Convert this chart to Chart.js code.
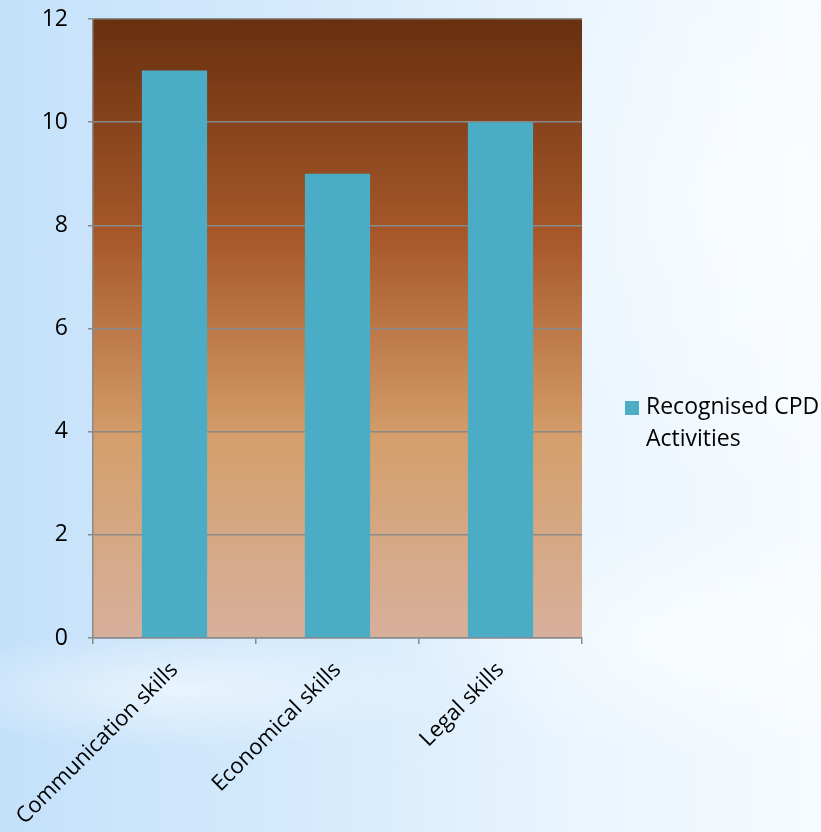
<!DOCTYPE html>
<html>
<head>
<meta charset="utf-8">
<script src="https://cdn.jsdelivr.net/npm/chart.js@4.4.1/dist/chart.umd.min.js"></script>
<style>
  html, body { margin: 0; padding: 0; }
  body {
    width: 821px; height: 832px; overflow: hidden;
    background:
      radial-gradient(ellipse 260px 60px at 180px 690px, rgba(255,255,255,0.55), rgba(255,255,255,0) 100%),
      radial-gradient(ellipse 300px 120px at 700px 640px, rgba(255,255,255,0.6), rgba(255,255,255,0) 100%),
      radial-gradient(ellipse 250px 300px at 760px 200px, rgba(255,255,255,0.5), rgba(255,255,255,0) 100%),
      linear-gradient(to right, #c4e1fa 0%, #d6ebfc 40%, #eaf5fe 70%, #f6fbff 100%);
  }
  #wrap { position: absolute; left: 0; top: 0; width: 821px; height: 832px; }
</style>
</head>
<body>
<div id="wrap"><canvas id="c" width="821" height="832"></canvas></div>
<script>
const categories = ["Communication skills", "Economical skills", "Legal skills"];
const seriesName = "Recognised CPD Activities";
const seriesLines = ["Recognised CPD", "Activities"];
const values = [11, 9, 10];
const yTicks = [0, 2, 4, 6, 8, 10, 12];

const FONT = "'Open Sans', 'Liberation Sans', sans-serif";

const plotBg = {
  id: 'plotBg',
  beforeDraw(chart) {
    const { ctx, chartArea: a } = chart;
    const g = ctx.createLinearGradient(0, a.top, 0, a.bottom);
    g.addColorStop(0, '#68300f');
    g.addColorStop(0.36, '#a9592b');
    g.addColorStop(0.68, '#d49f6c');
    g.addColorStop(1, '#d7b09c');
    ctx.save();
    ctx.fillStyle = g;
    ctx.fillRect(a.left, a.top, a.right - a.left, a.bottom - a.top);
    ctx.restore();
  }
};

const legendPlugin = {
  id: 'sideLegend',
  afterDraw(chart) {
    const { ctx } = chart;
    const ds = chart.data.datasets[0];
    ctx.save();
    ctx.fillStyle = ds.backgroundColor;
    ctx.fillRect(625, 401, 14, 14);
    ctx.fillStyle = '#000';
    ctx.font = "23px " + FONT;
    ctx.textBaseline = 'middle';
    ctx.textAlign = 'left';
    seriesLines.forEach((t, i) => ctx.fillText(t, 646, 407 + i * 32));
    ctx.restore();
  }
};

new Chart(document.getElementById('c'), {
  type: 'bar',
  data: {
    labels: categories,
    datasets: [{
      label: seriesName,
      data: values,
      backgroundColor: '#4bacc6',
      borderWidth: 0,
      barPercentage: 0.4,
      categoryPercentage: 1.0
    }]
  },
  options: {
    responsive: false,
    animation: false,
    devicePixelRatio: 1,
    layout: { padding: { top: 0, right: 239, left: 0, bottom: 0 } },
    plugins: {
      legend: { display: false },
      tooltip: { enabled: false }
    },
    scales: {
      x: {
        offset: true,
        grid: {
          offset: true,
          drawOnChartArea: false,
          drawTicks: true,
          tickLength: 6,
          color: '#8a8a8a',
          lineWidth: 1.5
        },
        border: { color: '#8a8a8a', width: 1.5 },
        ticks: {
          color: '#000',
          font: { family: FONT, size: 22 },
          minRotation: 45,
          maxRotation: 45,
          padding: 13
        },
        afterFit(scale) {
          scale.height = 194;
          scale.paddingLeft = 0; scale.paddingRight = 0;
          scale.paddingTop = 0; scale.paddingBottom = 0;
        }
      },
      y: {
        min: 0,
        max: 12,
        afterBuildTicks(scale) { scale.ticks = yTicks.map(v => ({ value: v })); },
        grid: {
          color: '#8a8a8a',
          lineWidth: 1.5,
          drawTicks: true,
          tickLength: 5
        },
        border: { color: '#8a8a8a', width: 1.5 },
        ticks: {
          color: '#000',
          font: { family: FONT, size: 23 },
          padding: 20
        },
        afterFit(scale) {
          scale.width = 93;
          scale.paddingTop = 19; scale.paddingBottom = 0;
          scale.paddingLeft = 0; scale.paddingRight = 0;
        }
      }
    }
  },
  plugins: [plotBg, legendPlugin]
});
</script>
</body>
</html>
